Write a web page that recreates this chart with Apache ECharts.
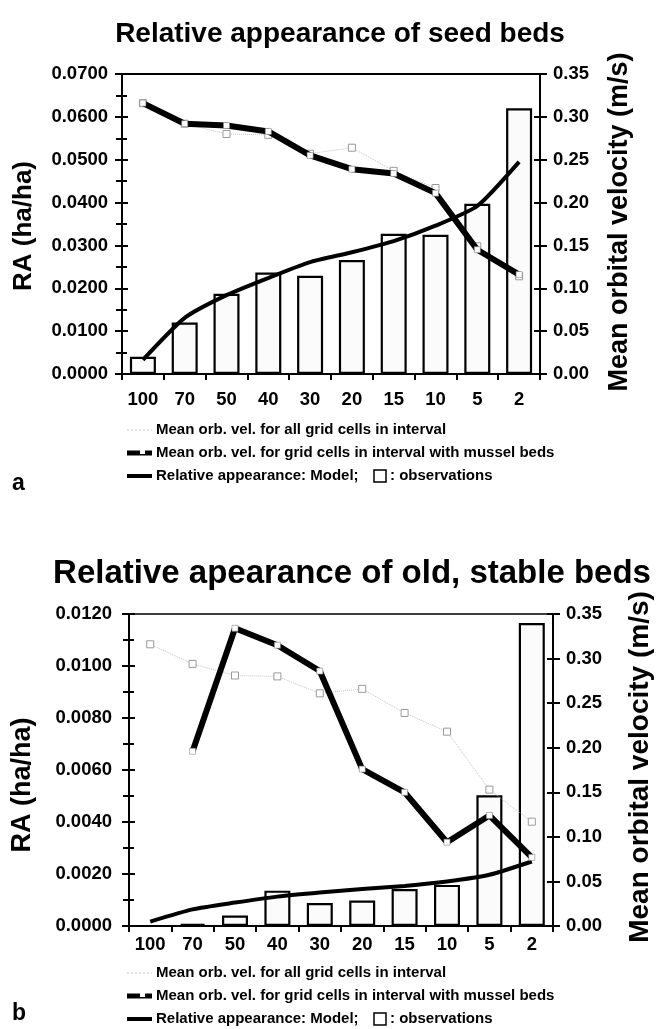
<!DOCTYPE html>
<html>
<head>
<meta charset="utf-8">
<script src="https://cdn.jsdelivr.net/npm/echarts@6/dist/echarts.min.js"></script>
<style>
  html, body { margin: 0; padding: 0; background: #fff; }
  #main { width: 658px; height: 1029px; }
</style>
</head>
<body>
<div id="main"></div>
<script>
// depth classes (x axis), same for both panels
const categories = ['100', '70', '50', '40', '30', '20', '15', '10', '5', '2'];

// panel a: seed beds
const seedObs = [0.0040, 0.0120, 0.0187, 0.0237, 0.0229, 0.0266, 0.0327, 0.0325, 0.0397, 0.0620];
const seedModel = [0.0033, 0.0131, 0.0184, 0.0224, 0.0261, 0.0284, 0.0310, 0.0346, 0.0392, 0.0495];
const seedAllVel = [0.316, 0.292, 0.280, 0.279, 0.257, 0.264, 0.237, 0.217, 0.149, 0.114];
const seedMusselVel = [0.316, 0.292, 0.290, 0.283, 0.255, 0.239, 0.234, 0.211, 0.145, 0.116];

// panel b: old, stable beds
const oldObs = [0, 0.00008, 0.0004, 0.00136, 0.00088, 0.00098, 0.00142, 0.00158, 0.00503, 0.01165];
const oldModel = [0.00017, 0.00064, 0.0009, 0.00113, 0.00129, 0.00142, 0.00154, 0.00171, 0.00197, 0.00248];
const oldAllVel = [0.316, 0.294, 0.281, 0.280, 0.261, 0.266, 0.239, 0.218, 0.153, 0.117];
const oldMusselVel = [null, 0.196, 0.334, 0.315, 0.286, 0.176, 0.150, 0.094, 0.124, 0.077];

const FONT = '"Liberation Sans", Arial, Helvetica, sans-serif';
const legendTexts = [
    'Mean orb. vel. for all grid cells in interval',
    'Mean orb. vel. for grid cells in interval with mussel beds',
    'Relative appearance: Model;'
];
const leftName = 'RA (ha/ha)';
const rightName = 'Mean orbital velocity (m/s)';

let chart = echarts.init(document.getElementById('main'));

function labelStyle(fmt, margin) {
    return {
        color: '#000', fontFamily: FONT, fontWeight: 'bold', fontSize: 18.5,
        margin: margin, formatter: fmt
    };
}

function xAxes(grid, margin) {
    return [
        {
            type: 'category', gridIndex: grid, data: categories, boundaryGap: true,
            axisLine: { lineStyle: { color: '#000', width: 2 } },
            axisTick: { show: true, length: 6, lineStyle: { color: '#000', width: 2 } },
            axisLabel: labelStyle(null, margin),
            splitLine: { show: false }
        },
        {
            // duplicate only for ticks crossing the axis
            type: 'category', gridIndex: grid, data: categories, boundaryGap: true,
            axisLine: { show: false },
            axisTick: { show: true, inside: true, length: 4, lineStyle: { color: '#000', width: 2 } },
            axisLabel: { show: false }, splitLine: { show: false }
        }
    ];
}

function yAxes(grid, leftMax, leftInt, leftMargin) {
    let tick = { show: true, length: 7, lineStyle: { color: '#000', width: 2 } };
    let minor = { show: true, splitNumber: 2, length: 6, lineStyle: { color: '#000', width: 2 } };
    return [
        {
            type: 'value', gridIndex: grid, position: 'left', min: 0, max: leftMax, interval: leftInt,
            axisLine: { show: true, lineStyle: { color: '#000', width: 2 } },
            axisTick: tick, minorTick: minor,
            axisLabel: labelStyle(v => v.toFixed(4), leftMargin),
            splitLine: { show: false }
        },
        {
            type: 'value', gridIndex: grid, position: 'right', min: 0, max: 0.35, interval: 0.05,
            axisLine: { show: true, lineStyle: { color: '#000', width: 2 } },
            axisTick: tick,
            axisLabel: labelStyle(v => v.toFixed(2), 13),
            splitLine: { show: false }
        },
        {
            type: 'value', gridIndex: grid, position: 'left', min: 0, max: leftMax, interval: leftInt,
            axisLine: { show: false },
            axisTick: { show: true, inside: true, length: 6, lineStyle: { color: '#000', width: 2 } },
            minorTick: { show: true, splitNumber: 2, length: 5, lineStyle: { color: '#000', width: 2 } },
            axisLabel: { show: false }, splitLine: { show: false }
        },
        {
            type: 'value', gridIndex: grid, position: 'right', min: 0, max: 0.35, interval: 0.05,
            axisLine: { show: false },
            axisTick: { show: true, inside: true, length: 6, lineStyle: { color: '#000', width: 2 } },
            axisLabel: { show: false }, splitLine: { show: false }
        }
    ];
}

function panelSeries(xi, yi, obs, model, allVel, musselVel) {
    return [
        {
            name: 'observations', type: 'bar', xAxisIndex: xi, yAxisIndex: yi,
            data: obs, barWidth: 26,
            itemStyle: { color: '#fbfbfb', borderColor: '#000', borderWidth: 2.2 },
            z: 2
        },
        {
            name: 'all cells', type: 'line', xAxisIndex: xi, yAxisIndex: yi + 1,
            data: allVel, symbol: 'rect', symbolSize: 7,
            lineStyle: { color: '#c4c4c4', width: 1, type: 'dotted' },
            itemStyle: { color: '#fff', borderColor: '#9a9a9a', borderWidth: 1 },
            z: 3
        },
        {
            name: 'model', type: 'line', xAxisIndex: xi, yAxisIndex: yi,
            data: model, smooth: 0.2, symbol: 'none',
            lineStyle: { color: '#000', width: 4 },
            z: 4
        },
        {
            name: 'mussel beds', type: 'line', xAxisIndex: xi, yAxisIndex: yi + 1,
            data: musselVel, symbol: 'rect', symbolSize: 6, connectNulls: false,
            lineStyle: { color: '#000', width: 6 },
            itemStyle: { color: '#fff', borderColor: '#888', borderWidth: 0.6 },
            z: 5
        }
    ];
}

// rotated axis titles
function axisTitle(x, y, s, size) {
    return {
        type: 'text', x: x, y: y, rotation: Math.PI / 2,
        style: {
            text: s, fill: '#000', font: 'bold ' + size + 'px ' + FONT,
            align: 'center', verticalAlign: 'middle'
        }
    };
}

function legendGraphic(top, letter, letterY) {
    let g = [];
    let rows = [top, top + 23, top + 46];
    let txt = function (x, y, s) {
        return {
            type: 'text', x: x, y: y,
            style: {
                text: s, fill: '#000', font: 'bold 15px ' + FONT,
                verticalAlign: 'middle'
            }
        };
    };
    // row 1: light dotted line
    g.push({ type: 'line', shape: { x1: 127, y1: rows[0], x2: 152, y2: rows[0] },
        style: { stroke: '#c4c4c4', lineWidth: 1, lineDash: [2, 2] } });
    // row 2: thick line with white square
    g.push({ type: 'line', shape: { x1: 127, y1: rows[1], x2: 152, y2: rows[1] },
        style: { stroke: '#000', lineWidth: 5 } });
    g.push({ type: 'rect', shape: { x: 140, y: rows[1] - 3, width: 5, height: 4 },
        style: { fill: '#fff' } });
    // row 3: model line
    g.push({ type: 'line', shape: { x1: 127, y1: rows[2], x2: 152, y2: rows[2] },
        style: { stroke: '#000', lineWidth: 4 } });
    for (let i = 0; i < 3; i++) {
        g.push(txt(156, rows[i], legendTexts[i]));
    }
    g.push({ type: 'rect', shape: { x: 374, y: rows[2] - 6, width: 12, height: 12 },
        style: { fill: '#fff', stroke: '#000', lineWidth: 1.5 } });
    g.push(txt(390, rows[2], ': observations'));
    g.push({
        type: 'text', x: 12, y: letterY,
        style: { text: letter, fill: '#000', font: 'bold 23px ' + FONT, verticalAlign: 'middle' }
    });
    return g;
}

let option = {
    backgroundColor: '#fff',
    animation: false,
    title: [
        {
            text: 'Relative appearance of seed beds', left: 335, textAlign: 'center', top: 15,
            textStyle: { color: '#000', fontFamily: FONT, fontWeight: 'bold', fontSize: 28 }
        },
        {
            text: 'Relative apearance of old, stable beds', left: 347, textAlign: 'center', top: 552,
            textStyle: { color: '#000', fontFamily: FONT, fontWeight: 'bold', fontSize: 33 }
        }
    ],
    grid: [
        { left: 122, width: 418, top: 74, height: 300, outerBoundsMode: 'none', show: true,
          borderColor: '#000', borderWidth: 2, backgroundColor: 'transparent' },
        { left: 129, width: 424, top: 614, height: 312, outerBoundsMode: 'none', show: true,
          borderColor: '#000', borderWidth: 1.5, backgroundColor: 'transparent' }
    ],
    xAxis: xAxes(0, 16).concat(xAxes(1, 9)),
    yAxis: yAxes(0, 0.07, 0.01, 14).concat(yAxes(1, 0.012, 0.002, 17)),
    series: panelSeries(0, 0, seedObs, seedModel, seedAllVel, seedMusselVel)
        .concat(panelSeries(2, 4, oldObs, oldModel, oldAllVel, oldMusselVel)),
    graphic: [
        axisTitle(24, 226, leftName, 26),
        axisTitle(620, 222, rightName, 27),
        axisTitle(23, 785, leftName, 27),
        axisTitle(640, 767, rightName, 28)
    ].concat(legendGraphic(430, 'a', 484)).concat(legendGraphic(973, 'b', 1014))
};

chart.setOption(option);
window.addEventListener('resize', function () {
    chart.resize();
});
</script>
</body>
</html>
